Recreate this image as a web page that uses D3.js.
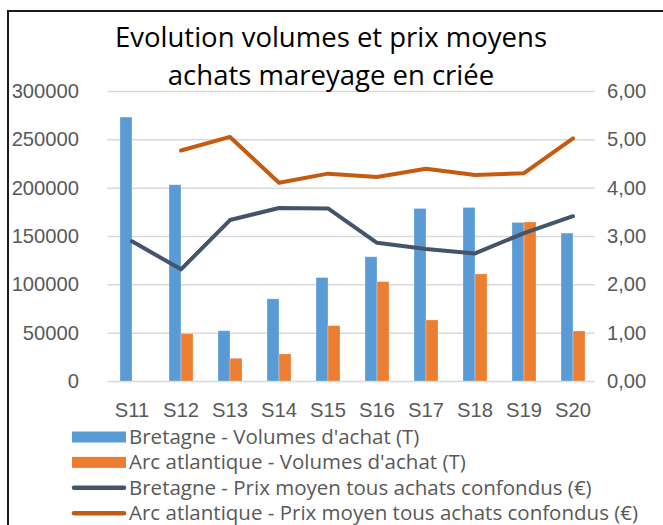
<!DOCTYPE html>
<html>
<head>
<meta charset="utf-8">
<script src="https://cdnjs.cloudflare.com/ajax/libs/d3/7.8.5/d3.min.js"></script>
<style>
  body { margin: 0; background: #fff; }
  svg { display: block; font-family: "Open Sans", Lato, sans-serif; }
</style>
</head>
<body>
<svg id="chart" width="663" height="525"></svg>
<script>
'use strict';

var weeks = ['S11', 'S12', 'S13', 'S14', 'S15', 'S16', 'S17', 'S18', 'S19', 'S20'];
var volBretagne = [273000, 203000, 52000, 85000, 107000, 128500, 178500, 179500, 164000, 153000];
var volArc = [null, 49000, 23500, 28000, 57300, 102800, 63200, 110800, 164500, 51800];
var prixBretagne = [2.89, 2.31, 3.33, 3.58, 3.57, 2.86, 2.73, 2.64, 3.06, 3.41];
var prixArc = [null, 4.77, 5.05, 4.10, 4.29, 4.22, 4.39, 4.26, 4.30, 5.02];
var leftTicks = [0, 50000, 100000, 150000, 200000, 250000, 300000];
var rightTicks = [0, 1, 2, 3, 4, 5, 6];
var titleLines = ['Evolution volumes et prix moyens', 'achats mareyage en criée'];
var legendLabels = [
  "Bretagne - Volumes d'achat (T)",
  "Arc atlantique - Volumes d'achat (T)",
  'Bretagne - Prix moyen tous achats confondus (€)',
  'Arc atlantique - Prix moyen tous achats confondus (€)'
];

var colors = {
  blue: '#5b9bd5',
  orange: '#ed7d31',
  navy: '#44546a',
  rust: '#c55a11',
  grid: '#d9d9d9',
  text: '#595959'
};

var svg = d3.select('#chart');

var plot = { left: 107.5, right: 597.5, top: 91, bottom: 381 };
var tickFont = '20.2px';

var x = d3.scaleBand().domain(weeks).range([plot.left, plot.right]);
var yVol = d3.scaleLinear().domain([0, 300000]).range([plot.bottom, plot.top]);
var yPrix = d3.scaleLinear().domain([0, 6]).range([plot.bottom, plot.top]);

var groupW = 24;
var sub = d3.scaleBand().domain(['bre', 'arc']).range([0, groupW]);
var fr = d3.formatLocale({ decimal: ',', thousands: '', grouping: [3], currency: ['', '€'] });

// frame (chart area border, cropped on right / bottom)
svg.append('path')
  .attr('d', 'M8,525V11H663')
  .attr('fill', 'none')
  .attr('stroke', '#1a1a1a')
  .attr('stroke-width', 2);

// gridlines
svg.append('g')
  .attr('transform', 'translate(' + plot.left + ',0)')
  .call(d3.axisLeft(yVol).tickValues(leftTicks).tickSize(-(plot.right - plot.left - 3)).tickFormat(''))
  .call(function (g) { g.select('.domain').remove(); })
  .selectAll('line')
  .attr('stroke', colors.grid)
  .attr('stroke-width', 1.5);

// left axis labels
svg.append('g')
  .attr('transform', 'translate(79,0)')
  .call(d3.axisLeft(yVol).tickValues(leftTicks).tickSize(0).tickPadding(0).tickFormat(d3.format('d')))
  .call(function (g) { g.select('.domain').remove(); })
  .selectAll('text')
  .attr('fill', colors.text)
  .attr('font-size', tickFont)
  .attr('font-family', null);

// right axis labels
svg.append('g')
  .attr('transform', 'translate(607,0)')
  .call(d3.axisRight(yPrix).tickValues(rightTicks).tickSize(0).tickPadding(0).tickFormat(fr.format('.2f')))
  .call(function (g) { g.select('.domain').remove(); })
  .selectAll('text')
  .attr('fill', colors.text)
  .attr('font-size', tickFont)
  .attr('font-family', null);

// x axis labels
svg.append('g')
  .attr('transform', 'translate(0,403)')
  .call(d3.axisBottom(x).tickSize(0).tickPadding(0))
  .call(function (g) { g.select('.domain').remove(); })
  .selectAll('text')
  .attr('fill', colors.text)
  .attr('font-size', tickFont)
  .attr('font-family', null);

// bars
var barRows = weeks.map(function (w, i) {
  return { week: w, bre: volBretagne[i], arc: volArc[i] };
});

var groups = svg.append('g')
  .selectAll('g.week')
  .data(barRows)
  .enter().append('g')
  .attr('class', 'week')
  .attr('transform', function (d) {
    return 'translate(' + (x(d.week) + (x.bandwidth() - groupW) / 2) + ',0)';
  });

groups.selectAll('rect')
  .data(function (d) {
    return [{ key: 'bre', v: d.bre }, { key: 'arc', v: d.arc }].filter(function (e) { return e.v != null; });
  })
  .enter().append('rect')
  .attr('x', function (d) { return sub(d.key); })
  .attr('width', sub.bandwidth())
  .attr('y', function (d) { return yVol(d.v); })
  .attr('height', function (d) { return yVol(0) - yVol(d.v); })
  .attr('fill', function (d) { return d.key === 'bre' ? colors.blue : colors.orange; })
  .attr('stroke', '#fff')
  .attr('stroke-opacity', 0.35)
  .attr('stroke-width', 0.8);

// price lines
var line = d3.line()
  .defined(function (d) { return d.v != null; })
  .x(function (d) { return x(d.week) + x.bandwidth() / 2; })
  .y(function (d) { return yPrix(d.v); });

[[prixBretagne, colors.navy], [prixArc, colors.rust]].forEach(function (s) {
  svg.append('path')
    .datum(weeks.map(function (w, i) { return { week: w, v: s[0][i] }; }))
    .attr('d', line)
    .attr('fill', 'none')
    .attr('stroke', s[1])
    .attr('stroke-width', 4)
    .attr('stroke-linejoin', 'round')
    .attr('stroke-linecap', 'round');
});

// title
svg.append('g')
  .selectAll('text')
  .data(titleLines)
  .enter().append('text')
  .attr('x', 331)
  .attr('y', function (d, i) { return 47 + i * 38; })
  .attr('text-anchor', 'middle')
  .attr('font-size', '27.5px')
  .attr('fill', '#000')
  .text(function (d) { return d; });

// legend
var legend = svg.append('g')
  .selectAll('g')
  .data(legendLabels)
  .enter().append('g')
  .attr('transform', function (d, i) { return 'translate(72,' + (437 + i * 25.4) + ')'; });

legend.each(function (d, i) {
  var g = d3.select(this);
  if (i < 2) {
    g.append('rect')
      .attr('x', 0).attr('y', -5.5)
      .attr('width', 54).attr('height', 11)
      .attr('fill', i === 0 ? colors.blue : colors.orange);
  } else {
    g.append('line')
      .attr('x1', 2).attr('x2', 52)
      .attr('stroke', i === 2 ? colors.navy : colors.rust)
      .attr('stroke-width', 4.5)
      .attr('stroke-linecap', 'round');
  }
  g.append('text')
    .attr('x', 57)
    .attr('dy', '0.33em')
    .attr('font-size', '20.5px')
    .attr('fill', colors.text)
    .text(d);
});
</script>
</body>
</html>
